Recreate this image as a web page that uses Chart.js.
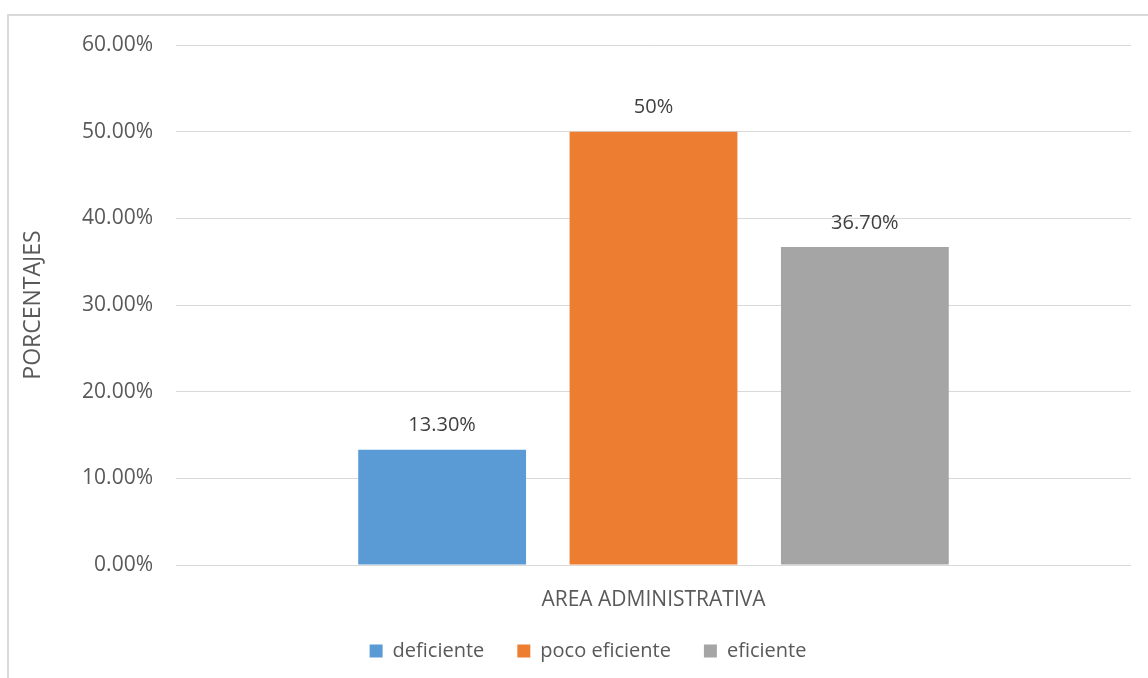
<!DOCTYPE html>
<html>
<head>
<meta charset="utf-8">
<script src="https://cdn.jsdelivr.net/npm/chart.js@4/dist/chart.umd.min.js"></script>
<style>
  body { margin: 0; background: #fff; }
  #frame { position: absolute; left: 7px; top: 14px; width: 1200px; height: 700px; border: 2px solid #d9d9d9; }
  #wrap { position: absolute; left: 0; top: 0; width: 1148px; height: 678px; }
</style>
</head>
<body>
<div id="frame"></div>
<div id="wrap"><canvas id="myChart"></canvas></div>
<script>
const categories = ["AREA ADMINISTRATIVA"];
const seriesNames = ["deficiente", "poco eficiente", "eficiente"];
const seriesValues = [13.3, 50, 36.7];
const valueLabels = ["13.30%", "50%", "36.70%"];
const seriesColors = ["#5b9bd5", "#ed7d31", "#a5a5a5"];
const yTicks = [0, 10, 20, 30, 40, 50, 60];

const fontFamily = "'Open Sans', sans-serif";
const textColor = "#595959";

//ラベルを上に描く
const barLabels = {
  id: "barLabels",
  afterDatasetsDraw: (chart) => {
    const ctx = chart.ctx;
    ctx.save();
    ctx.font = "20px " + fontFamily;
    ctx.fillStyle = "#404040";
    ctx.textAlign = "center";
    ctx.textBaseline = "middle";
    chart.data.datasets.forEach((ds, i) => {
      const bar = chart.getDatasetMeta(i).data[0];
      ctx.fillText(valueLabels[i], bar.x, bar.y - 24);
    });
    ctx.restore();
  },
};

const datasets = [];
for (var j = 0; j < seriesNames.length; j++) {
  datasets.push({
    label: seriesNames[j],
    data: [seriesValues[j]],
    backgroundColor: seriesColors[j],
    borderWidth: 0,
    categoryPercentage: 0.664,
    barPercentage: 0.794,
  });
}

const config = {
  type: "bar",
  data: { labels: categories, datasets: datasets },
  plugins: [barLabels],
  options: {
    responsive: false,
    animation: false,
    layout: { padding: { left: 45, right: 17, top: 45, bottom: 7 } },
    plugins: {
      tooltip: { enabled: false },
      legend: {
        position: "bottom",
        labels: {
          boxWidth: 13,
          boxHeight: 13,
          padding: 33,
          color: textColor,
          font: { family: fontFamily, size: 20 },
        },
      },
    },
    scales: {
      x: {
        grid: { display: false, drawTicks: false },
        border: { display: false },
        ticks: { color: textColor, padding: 22, font: { family: fontFamily, size: 21 } },
        afterFit: (scale) => { scale.height = 43; },
      },
      y: {
        min: 0,
        max: 60,
        afterBuildTicks: (scale) => { scale.ticks = yTicks.map((v) => ({ value: v })); },
        grid: { color: "#d9d9d9", drawTicks: false, lineWidth: 1 },
        border: { display: false },
        title: {
          display: true,
          text: "PORCENTAJES",
          color: textColor,
          font: { family: fontFamily, size: 23 },
          padding: { top: -25, bottom: 0 },
        },
        ticks: {
          color: textColor,
          padding: 23,
          font: { family: fontFamily, size: 21 },
          callback: (v) => v.toFixed(2) + "%",
        },
        afterFit: (scale) => { scale.width = 131; },
      },
    },
  },
};
const canvas = document.getElementById("myChart");
canvas.width = 1148;
canvas.height = 678;
new Chart(canvas, config);
</script>
</body>
</html>
